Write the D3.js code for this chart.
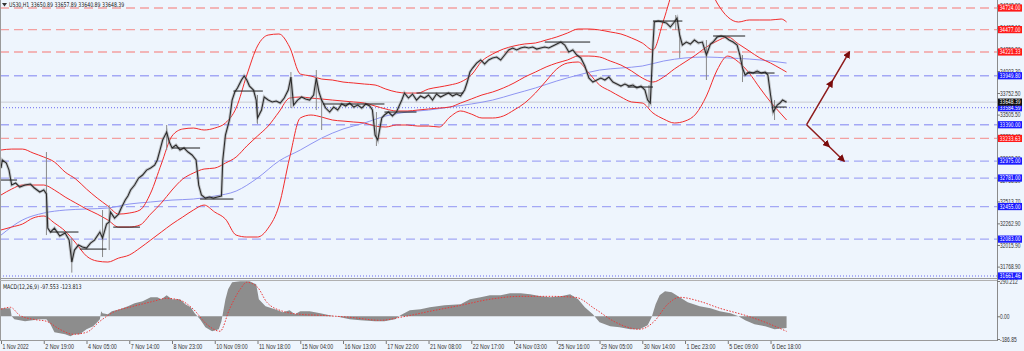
<!DOCTYPE html>
<html>
<head>
<meta charset="utf-8">
<script src="https://cdn.jsdelivr.net/npm/d3@7"></script>
<style>
  body { margin: 0; background: #eef5fd; }
  svg { display: block; font-family: "DejaVu Sans Condensed", sans-serif; }
</style>
</head>
<body>
<svg width="1024" height="351"></svg>
<script>
// ---- data (US30, H1) ----
const title = "US30,H1  33650.89 33657.89 33640.89 33648.39";
const macdTitle = "MACD(12,26,9) -97.553 -123.813";

const dateBars = [0, 32, 64, 96, 128, 160, 192, 224, 256, 288, 320, 352, 384, 416, 448, 480, 512, 544, 576];
const dateLabels = ["1 Nov 2022", "2 Nov 19:00", "4 Nov 05:00", "7 Nov 14:00", "8 Nov 23:00", "10 Nov 09:00",
  "11 Nov 18:00", "15 Nov 04:00", "16 Nov 13:00", "17 Nov 22:00", "21 Nov 08:00", "22 Nov 17:00",
  "24 Nov 03:00", "25 Nov 16:00", "29 Nov 05:00", "30 Nov 14:00", "1 Dec 23:00", "5 Dec 09:00", "6 Dec 18:00"];

const priceTicks = [34748.90, 34497.10, 34250.30, 34003.30, 33752.50, 33505.50, 33254.40, 33003.30,
  32758.50, 32513.70, 32262.90, 32015.90, 31768.90];
const macdTicks = [290.212, 0, -186.85];
const macdTickLabels = ["290.212", "0.00", "-186.85"];

const redLevels = [34724.00, 34477.00, 34221.33, 33233.63];
const blueLevels = [33949.80, 33390.00, 32975.00, 32781.00, 32455.00, 32083.00];
const lowLevel = 31661.46;
const dottedLevel = 33584.59;
const bidPrice = 33648.39;

const priceBars = [0,1,4,6,8,11,14,18,22,25,29,32,34,35,37,40,44,48,51,53,55,58,61,64,67,70,74,76,79,81,82,85,88,90,93,95,97,
  100,103,106,109,112,115,117,119,121,124,126,128,131,134,137,140,143,146,148,150,153,156,159,162,165,166,168,171,173,175,177,
  180,182,184,186,189,191,192,195,197,200,203,206,209,212,215,217,219,222,225,228,231,234,236,238,240,243,246,249,252,255,258,
  261,264,267,270,273,276,278,280,282,285,287,290,293,296,300,302,305,308,311,314,317,320,323,326,329,332,335,338,341,344,347,
  349,351,353,356,359,362,365,368,371,374,377,380,383,386,389,392,395,398,401,404,407,410,413,416,419,422,425,428,431,434,437,
  440,443,446,449,452,455,458,461,464,467,470,473,476,479,482,484,486,488,489,492,495,498,501,504,506,508,510,513,516,519,522,
  525,528,531,533,536,539,542,545,548,551,553,555,557,560,563,566,569,572,574,576,578,581,583,585,588];
const closes = [32895,32987,32952,32872,32701,32724,32678,32701,32712,32667,32621,32644,32598,32209,32164,32209,32118,32152,
  32072,31821,31958,32015,31992,31981,32038,32072,32164,32095,32255,32278,32392,32323,32369,32438,32530,32575,32644,
  32701,32781,32815,32872,32895,32929,32987,33101,33215,33307,33192,33124,33158,33101,33124,33078,33044,32987,32701,32587,
  32552,32564,32552,32564,32575,32987,33272,33444,33672,33764,33810,33901,33947,33901,33832,33787,33672,33467,33558,33707,
  33672,33650,33661,33638,33695,33787,33935,33615,33672,33707,33684,33672,33730,33924,33764,33672,33581,33535,33592,33558,
  33627,33604,33638,33592,33615,33581,33627,33604,33558,33272,33215,33467,33501,33535,33490,33535,33672,33752,33695,33741,
  33672,33718,33695,33730,33672,33741,33707,33730,33752,33718,33741,33718,33787,33878,33992,34038,34095,34130,34084,34130,
  34153,34164,34130,34187,34244,34267,34244,34267,34278,34267,34278,34255,34267,34278,34267,34290,34312,34335,34301,34221,
  34244,34187,34153,34061,33924,33878,33901,33924,33901,33935,33878,33855,33832,33855,33832,33844,33810,33832,33787,33672,
  33638,34301,34564,34575,34564,34553,34507,34564,34610,34415,34301,34335,34312,34358,34324,34335,34187,34312,34335,34392,
  34404,34392,34358,34335,34301,34187,34038,33958,33992,33981,34004,33981,33992,33958,33730,33535,33615,33638,33672,33648];

const wickBars = [34, 53, 76, 81, 124, 192, 217, 236, 240, 281, 485, 505, 508, 528, 555, 579];
const wickHigh = [33078, 32095, 32415, 32472, 33387, 33730, 33992, 34015, 33672, 33535, 33844, 34644, 34415, 34358, 34187, 33672];
const wickLow = [32129, 31700, 31878, 31958, 33101, 33400, 33581, 33558, 33330, 33147, 33592, 34473, 34153, 33901, 33878, 33444];

// short black range lines: start bar, end bar, price
const segStart = [0, 37, 59, 84, 128, 149, 174, 241, 287, 311, 407, 469, 488, 533, 558, 578];
const segEnd = [12, 58, 79, 104, 149, 174, 196, 287, 311, 346, 441, 488, 510, 557, 579, 588];
const segPrice = [32758, 32164, 31969, 32220, 33124, 32541, 33775, 33627, 33535, 33752, 34335, 33821, 34575, 34404, 33981, 33592];

const bandBars = [0,8,16,24,32,40,48,56,64,72,80,88,96,104,112,120,128,136,144,152,160,168,176,184,192,200,208,216,224,232,
  240,248,256,264,272,280,288,296,304,312,320,328,336,344,352,360,368,376,384,392,400,408,416,424,432,440,448,456,464,472,
  480,488,496,504,512,520,528,536,544,552,560,568,576,584,588];
const bbUpper = [33101,33112,33112,33067,33021,32964,32849,32769,32655,32552,32461,32369,32381,32415,32609,32941,33261,33341,
  33352,33330,33352,33410,33581,33958,34290,34415,34427,34278,33970,33947,33912,33901,33878,33867,33855,33844,33798,33764,
  33752,33752,33798,33821,33844,33878,33958,34118,34198,34255,34290,34313,34324,34358,34393,34438,34484,34484,34473,34450,
  34427,34381,34324,34244,34587,34964,35101,35124,35021,34781,34621,34564,34587,34587,34587,34598,34564];
const bbMiddle = [32587,32655,32701,32701,32701,32644,32564,32495,32427,32369,32301,32221,32221,32244,32369,32495,32644,32769,
  32838,32884,32895,32952,33021,33147,33261,33375,33535,33695,33707,33695,33684,33672,33661,33650,33638,33604,33570,33547,
  33547,33558,33570,33581,33592,33638,33684,33730,33764,33810,33867,33935,33992,34050,34095,34130,34175,34175,34164,34118,
  34072,34004,33924,33878,33935,34027,34107,34187,34278,34347,34393,34313,34233,34153,34095,34027,33992];
const bbLower = [32187,32221,32255,32324,32347,32267,32175,32038,31889,31832,31821,31866,31901,31981,32072,32164,32255,32335,
  32415,32472,32392,32312,32129,32107,32107,32209,32461,33010,33467,33501,33478,33444,33432,33421,33410,33375,33364,33387,
  33387,33375,33375,33364,33478,33547,33512,33467,33467,33490,33558,33638,33752,33890,34027,34095,34107,33981,33844,33775,
  33707,33650,33638,33524,33455,33410,33432,33512,33718,34015,34175,34107,33981,33810,33650,33512,33444];

const maBars = [0,16,32,48,64,80,96,112,128,144,160,176,192,208,224,240,256,272,288,304,320,336,352,368,384,400,416,432,
  448,464,480,496,512,528,544,560,576,588];
const maValues = [32129,32301,32381,32415,32427,32438,32484,32507,32529,32541,32575,32632,32781,32975,33101,33238,33341,
  33410,33490,33535,33558,33592,33627,33672,33741,33810,33890,33958,34015,34038,34061,34118,34153,34164,34153,34141,34118,34095];

// MACD histogram and signal
const histBars = [0,7,8,10,18,29,34,37,40,48,52,55,59,64,69,72,74,75,76,80,83,89,95,100,106,112,117,120,124,128,134,138,142,
  145,149,153,158,163,165,168,170,173,179,186,191,193,198,205,211,216,220,224,231,239,246,254,261,269,280,287,295,299,306,314,
  321,332,344,351,359,366,374,381,389,396,404,411,419,426,432,437,443,448,456,463,471,478,484,487,490,493,497,502,508,514,523,
  531,538,546,552,557,564,572,579,588];
const histValues = [66,66,0,-25,-41,-25,-25,-66,-132,-148,-164,-148,-148,-107,-82,-49,-25,41,25,16,41,58,82,107,123,156,156,
  140,173,140,140,99,74,25,-25,-90,-123,-107,-41,140,222,280,288,288,263,140,82,58,33,49,16,41,41,25,8,-8,-25,-33,-41,-41,-25,
  8,49,58,74,90,99,140,156,173,173,189,189,181,164,156,164,181,140,74,16,-49,-82,-90,-107,-107,-74,-8,99,173,206,197,156,115,
  82,66,41,25,0,-33,-66,-82,-107,-97];
const sigBars = [0,7,14,24,34,44,54,64,74,84,99,114,124,134,144,154,164,171,179,184,192,199,211,224,239,261,284,299,321,344,
  366,389,411,430,445,460,478,489,499,508,523,538,557,572,588];
const sigValues = [58,74,8,-25,-41,-107,-148,-132,-41,33,82,123,148,132,58,-66,-123,58,222,280,239,115,41,16,8,-8,-33,-8,41,
  90,140,164,164,156,58,-49,-107,-41,99,156,123,66,8,-49,-124];

// projected scenario arrows: pivot, up target, down target
const arrowBars = [603, 635, 631];
const arrowPrices = [33390.00, 34221.33, 32975.00];

// ---- drawing ----
const svg = d3.select("svg");
const W = 997, mainBottom = 277;
const FS = 6.4, SX = 0.77;   // right-hand labels are squeezed horizontally
const fit = sel => sel.attr("textLength", function() { return this.textContent.length * 2.62; })
  .attr("lengthAdjust", "spacingAndGlyphs");

const x = d3.scaleLinear().domain([0, 745.5]).range([1, W]);
const y = d3.scaleLinear().domain([lowLevel, 34724]).range([276, 8]);
const yM = d3.scaleLinear().domain([-186.85, 290.212]).range([339, 281]);

svg.append("rect").attr("width", 1024).attr("height", 351).attr("fill", "#eef5fd");

const defs = svg.append("defs");
defs.append("clipPath").attr("id", "mainClip").append("rect")
  .attr("x", 0).attr("y", 0).attr("width", W).attr("height", mainBottom);
defs.append("clipPath").attr("id", "macdClip").append("rect")
  .attr("x", 0).attr("y", 280).attr("width", W).attr("height", 60);
defs.append("marker").attr("id", "head").attr("viewBox", "0 0 10 10").attr("refX", 8).attr("refY", 5)
  .attr("markerWidth", 5).attr("markerHeight", 5).attr("orient", "auto")
  .append("path").attr("d", "M0,0L10,5L0,10z").attr("fill", "#7a0c0c");

const main = svg.append("g").attr("clip-path", "url(#mainClip)");

// horizontal levels
main.selectAll(".red").data(redLevels).join("line")
  .attr("x1", 0).attr("x2", W).attr("y1", d => y(d)).attr("y2", d => y(d))
  .attr("stroke", "#f3a0a0").attr("stroke-width", 1.3).attr("stroke-dasharray", "9,5");
main.selectAll(".blue").data(blueLevels).join("line")
  .attr("x1", 0).attr("x2", W).attr("y1", d => y(d)).attr("y2", d => y(d))
  .attr("stroke", "#a3a8f5").attr("stroke-width", 1.3).attr("stroke-dasharray", "9,5");
main.append("line").attr("x1", 0).attr("x2", W).attr("y1", y(bidPrice)).attr("y2", y(bidPrice))
  .attr("stroke", "#c9cdd3").attr("stroke-width", 1);
main.append("line").attr("x1", 0).attr("x2", W).attr("y1", y(dottedLevel)).attr("y2", y(dottedLevel))
  .attr("stroke", "#6a6af0").attr("stroke-width", 1).attr("stroke-dasharray", "1,2");
main.append("line").attr("x1", 0).attr("x2", W).attr("y1", y(lowLevel)).attr("y2", y(lowLevel))
  .attr("stroke", "#6a6af0").attr("stroke-width", 1).attr("stroke-dasharray", "1,2");

// moving average and bollinger bands
const lineOf = (bars, vals, sc) => d3.line().x((d, i) => x(bars[i])).y(d => sc(d)).curve(d3.curveMonotoneX)(vals);
main.append("path").attr("d", lineOf(maBars, maValues, y))
  .attr("fill", "none").attr("stroke", "#8f95f2").attr("stroke-width", 1);
[bbUpper, bbMiddle, bbLower].forEach(s => {
  main.append("path").attr("d", lineOf(bandBars, s, y))
    .attr("fill", "none").attr("stroke", "#f22c2c").attr("stroke-width", 1);
});

// price
main.selectAll(".wick").data(wickBars).join("line")
  .attr("x1", d => x(d)).attr("x2", d => x(d))
  .attr("y1", (d, i) => y(wickHigh[i])).attr("y2", (d, i) => y(wickLow[i]))
  .attr("stroke", "#8a8a8a").attr("stroke-width", 1);
const priceLine = d3.line().x((d, i) => x(priceBars[i])).y(d => y(d));
main.append("path").attr("d", priceLine(closes))
  .attr("fill", "none").attr("stroke", "#8c8c8c").attr("stroke-width", 3).attr("opacity", 0.45);
main.append("path").attr("d", priceLine(closes))
  .attr("fill", "none").attr("stroke", "#2b2b2b").attr("stroke-width", 1.1);
main.selectAll(".seg").data(segPrice).join("line")
  .attr("x1", (d, i) => x(segStart[i])).attr("x2", (d, i) => x(segEnd[i]))
  .attr("y1", d => y(d)).attr("y2", d => y(d))
  .attr("stroke", "#1e1e1e").attr("stroke-width", 1);

// scenario arrows
[1, 2].forEach(k => {
  const x0 = x(arrowBars[0]), y0 = y(arrowPrices[0]);
  const x1 = x(arrowBars[k]), y1 = y(arrowPrices[k]);
  const xm = x0 + (x1 - x0) * 0.6, ym = y0 + (y1 - y0) * 0.6;
  main.append("path").attr("d", `M${x0},${y0}L${xm},${ym}L${x1},${y1}`)
    .attr("fill", "none").attr("stroke", "#8e1c1c").attr("stroke-width", 1.5)
    .attr("marker-mid", "url(#head)").attr("marker-end", "url(#head)");
});

// panel frames
svg.append("line").attr("x1", 0.5).attr("x2", 0.5).attr("y1", 0).attr("y2", 341).attr("stroke", "#9a9a9a");
svg.append("line").attr("x1", 0).attr("x2", W).attr("y1", 278.5).attr("y2", 278.5).attr("stroke", "#9a9a9a");
svg.append("line").attr("x1", 0).attr("x2", W).attr("y1", 280.5).attr("y2", 280.5).attr("stroke", "#b0b0b0");
svg.append("line").attr("x1", 0).attr("x2", W).attr("y1", 340.5).attr("y2", 340.5).attr("stroke", "#9a9a9a");
svg.append("line").attr("x1", W + 0.5).attr("x2", W + 0.5).attr("y1", 0).attr("y2", 341).attr("stroke", "#8a8a8a");

// MACD
const macd = svg.append("g").attr("clip-path", "url(#macdClip)");
const histArea = d3.area().x((d, i) => x(histBars[i])).y0(yM(0)).y1(d => yM(d));
macd.append("path").attr("d", histArea(histValues)).attr("fill", "#8d8d8d");
macd.append("path").attr("d", lineOf(sigBars, sigValues, yM))
  .attr("fill", "none").attr("stroke", "#e83a3a").attr("stroke-width", 1).attr("stroke-dasharray", "1.5,1.5");
svg.append("text").attr("x", 3).attr("y", 289).attr("font-size", FS).attr("fill", "#222").text(macdTitle).call(fit);

// right price axis
const squeeze = sel => sel.attr("font-size", FS).attr("font-family", null)
  .attr("x", 3 / SX).attr("transform", `scale(${SX},1)`);
const axR = svg.append("g").attr("transform", `translate(${W},0)`)
  .call(d3.axisRight(y).tickValues(priceTicks).tickSize(3).tickFormat(d3.format(".2f")));
axR.select(".domain").remove();
axR.selectAll("line").attr("stroke", "#777");
axR.selectAll("text").attr("fill", "#333").call(squeeze);

const axM = svg.append("g").attr("transform", `translate(${W},0)`)
  .call(d3.axisRight(yM).tickValues(macdTicks).tickSize(3).tickFormat((d, i) => macdTickLabels[i]));
axM.select(".domain").remove();
axM.selectAll("line").attr("stroke", "#777");
axM.selectAll("text").attr("fill", "#333").call(squeeze);

// coloured level labels
const tags = [];
redLevels.forEach(v => tags.push({v, fill: "#ff1a1a"}));
blueLevels.forEach(v => tags.push({v, fill: "#1a1aff"}));
tags.push({v: lowLevel, fill: "#1a1aff"});
tags.push({v: dottedLevel, fill: "#1a1aff"});
tags.push({v: bidPrice, fill: "#111"});
const tg = svg.selectAll(".tag").data(tags).join("g").attr("transform", d => `translate(${W + 1},${y(d.v)})`);
tg.append("rect").attr("x", 0).attr("y", -3.6).attr("width", 24).attr("height", 7.2).attr("fill", d => d.fill);
tg.append("text").attr("y", 2.2).attr("fill", "#fff")
  .text(d => d3.format(".2f")(d.v)).call(squeeze).attr("x", 1.5 / SX);

// bottom time axis
const axB = svg.append("g").attr("transform", "translate(0,341)")
  .call(d3.axisBottom(x).tickValues(dateBars).tickSize(3).tickFormat((d, i) => dateLabels[i]));
axB.select(".domain").remove();
axB.selectAll("line").attr("stroke", "#777");
axB.selectAll("text").attr("font-size", FS).attr("fill", "#333").attr("text-anchor", "start")
  .attr("dx", 1).attr("y", 3).attr("font-family", null).call(fit);

// header
svg.append("path").attr("d", "M2,3L7,3L4.5,6.5z").attr("fill", "#333");
svg.append("text").attr("x", 9).attr("y", 7).attr("font-size", FS).attr("fill", "#222").text(title).call(fit);
</script>
</body>
</html>
